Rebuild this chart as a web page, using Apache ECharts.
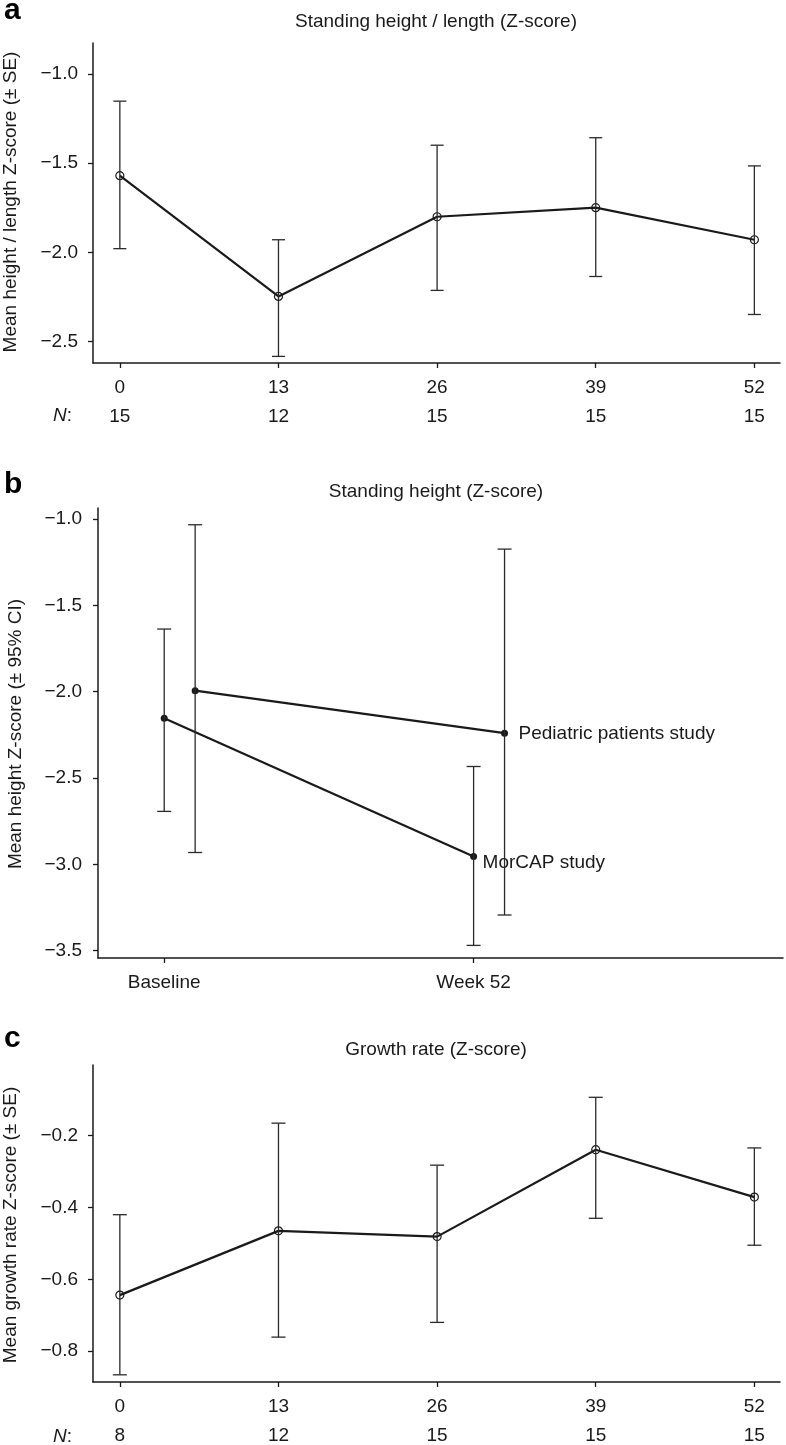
<!DOCTYPE html>
<html><head><meta charset="utf-8">
<script src="https://cdn.jsdelivr.net/npm/echarts@6/dist/echarts.min.js"></script>
<style>html,body{margin:0;padding:0;background:#fff}#c{width:786px;height:1445px}</style>
</head><body><div id="c"></div>
<script>
// ---------- Panel a: Standing height / length (Z-score) ----------
const weeksA = [0, 13, 26, 39, 52];
const nA = [15, 12, 15, 15, 15];
const meanA = [-1.57, -2.247, -1.80, -1.749, -1.929];
const upperA = [-1.152, -1.929, -1.399, -1.357, -1.515];
const lowerA = [-1.979, -2.583, -2.213, -2.135, -2.348];
const yTicksA = [-2.5, -2.0, -1.5, -1.0];

// ---------- Panel b: Standing height (Z-score) ----------
const timeLabelsB = ['Baseline', 'Week 52'];
const timeB = [0, 1];
const morcapName = 'MorCAP study';
const morcapMean = [-2.154, -2.954];
const morcapUpper = [-1.637, -2.433];
const morcapLower = [-2.693, -3.469];
const pedName = 'Pediatric patients study';
const pedMean = [-1.994, -2.24];
const pedUpper = [-1.033, -1.174];
const pedLower = [-2.931, -3.293];
const yTicksB = [-3.5, -3.0, -2.5, -2.0, -1.5, -1.0];

// ---------- Panel c: Growth rate (Z-score) ----------
const weeksC = [0, 13, 26, 39, 52];
const nC = [8, 12, 15, 15, 15];
const meanC = [-0.644, -0.465, -0.481, -0.239, -0.371];
const upperC = [-0.42, -0.165, -0.282, -0.093, -0.234];
const lowerC = [-0.866, -0.761, -0.720, -0.430, -0.505];
const yTicksC = [-0.8, -0.6, -0.4, -0.2];

// ---------- styling ----------
const FONT = 'Liberation Sans, Arial, Helvetica, sans-serif';
const FS = 19;
const INK = '#1a1a1a';
const dodgeB = 0.1; // horizontal dodge of the second study in panel b

function minus(v, d) { return (v < 0 ? '\u2212' : '') + Math.abs(v).toFixed(d); }

function errorSeries(xi, xs, lo, hi, cap) {
  return {
    type: 'custom', xAxisIndex: xi, yAxisIndex: xi, silent: true, z: 3,
    encode: { x: 0, y: [1, 2] },
    data: xs.map((x, i) => [x, lo[i], hi[i]]),
    renderItem: function (params, api) {
      const x = api.value(0);
      const p1 = api.coord([x, api.value(1)]);
      const p2 = api.coord([x, api.value(2)]);
      const st = { stroke: '#2a2a2a', lineWidth: 1.3 };
      return { type: 'group', children: [
        { type: 'line', shape: { x1: p1[0], y1: p1[1], x2: p2[0], y2: p2[1] }, style: st },
        { type: 'line', shape: { x1: p1[0] - cap, y1: p1[1], x2: p1[0] + cap, y2: p1[1] }, style: st },
        { type: 'line', shape: { x1: p2[0] - cap, y1: p2[1], x2: p2[0] + cap, y2: p2[1] }, style: st }
      ]};
    }
  };
}

function weekXAxis(gi, weeks, ns) {
  return {
    type: 'value', gridIndex: gi, min: -2.2, max: 54.1,
    axisLine: { show: true, onZero: false, lineStyle: { color: INK, width: 1.5 } },
    axisTick: { show: true, length: 5, customValues: weeks, lineStyle: { color: INK, width: 1.3 } },
    splitLine: { show: false },
    axisLabel: {
      customValues: weeks, margin: 10, color: INK, fontFamily: FONT, fontSize: FS,
      formatter: v => '{t|' + v + '}\n{t|' + ns[weeks.indexOf(v)] + '}',
      rich: { t: { fontFamily: FONT, fontSize: FS, lineHeight: 29, color: INK } }
    }
  };
}

function yAxisDef(gi, min, max, ticks, d, margin) {
  return {
    type: 'value', gridIndex: gi, min: min, max: max,
    axisLine: { show: true, onZero: false, lineStyle: { color: INK, width: 1.5 } },
    axisTick: { show: true, length: 5, customValues: ticks, lineStyle: { color: INK, width: 1.3 } },
    splitLine: { show: false },
    axisLabel: { customValues: ticks, margin: margin, color: INK, fontFamily: FONT, fontSize: FS,
      formatter: v => minus(v, d) }
  };
}

function meanLine(xi, xs, ys, size, filled, name) {
  return {
    type: 'line', name: name, xAxisIndex: xi, yAxisIndex: xi, z: 2,
    data: xs.map((x, i) => [x, ys[i]]),
    symbol: 'circle', symbolSize: size, showAllSymbol: true,
    lineStyle: { color: INK, width: 2.2 },
    itemStyle: filled ? { color: INK, borderWidth: 0 } : { color: 'rgba(255,255,255,0)', borderColor: INK, borderWidth: 1.2 },
    emphasis: { disabled: true }, animation: false
  };
}

const chart = echarts.init(document.getElementById('c'), null, { renderer: 'canvas' });

const titleStyle = { fontFamily: FONT, fontSize: FS, fontWeight: 'normal', color: INK };
const yTitleStyle = (t) => ({ text: t, font: FS + 'px ' + FONT, fill: INK, align: 'center', verticalAlign: 'middle' });
const nStyle = { text: '{i|N}:', font: FS + 'px ' + FONT, fill: INK, verticalAlign: 'middle',
  rich: { i: { fontStyle: 'italic', fontFamily: FONT, fontSize: FS, fill: INK } } };

const option = {
  animation: false,
  backgroundColor: '#fff',
  title: [
    { text: 'Standing height / length (Z-score)', left: 436, top: 12, textAlign: 'center', padding: 0, textStyle: titleStyle },
    { text: 'Standing height (Z-score)', left: 436, top: 482, textAlign: 'center', padding: 0, textStyle: titleStyle },
    { text: 'Growth rate (Z-score)', left: 436, top: 1040, textAlign: 'center', padding: 0, textStyle: titleStyle }
  ],
  grid: [
    { left: 93, top: 43, width: 687, height: 320 },
    { left: 98, top: 508, width: 685, height: 450 },
    { left: 93, top: 1065, width: 687, height: 318 }
  ],
  xAxis: [
    weekXAxis(0, weeksA, nA),
    {
      type: 'value', gridIndex: 1, min: -0.214, max: 2.0,
      axisLine: { show: true, onZero: false, lineStyle: { color: INK, width: 1.5 } },
      axisTick: { show: true, length: 5, customValues: timeB, lineStyle: { color: INK, width: 1.3 } },
      splitLine: { show: false },
      axisLabel: { customValues: timeB, margin: 15, color: INK, fontFamily: FONT, fontSize: FS,
        formatter: v => timeLabelsB[timeB.indexOf(v)] }
    },
    weekXAxis(2, weeksC, nC)
  ],
  yAxis: [
    yAxisDef(0, -2.62, -0.826, yTicksA, 1, 15),
    yAxisDef(1, -3.542, -0.936, yTicksB, 1, 16),
    yAxisDef(2, -0.886, -0.003, yTicksC, 1, 15)
  ],
  graphic: [
    { type: 'text', left: 4, top: -4, style: { text: 'a', font: 'bold 30px ' + FONT, fill: '#000' } },
    { type: 'text', left: 4, top: 470, style: { text: 'b', font: 'bold 30px ' + FONT, fill: '#000' } },
    { type: 'text', left: 4, top: 1024, style: { text: 'c', font: 'bold 30px ' + FONT, fill: '#000' } },
    { type: 'text', x: 11, y: 202, rotation: Math.PI / 2, style: yTitleStyle('Mean height / length Z-score (\u00b1 SE)') },
    { type: 'text', x: 16, y: 734, rotation: Math.PI / 2, style: yTitleStyle('Mean height Z-score (\u00b1 95% CI)') },
    { type: 'text', x: 11, y: 1225, rotation: Math.PI / 2, style: yTitleStyle('Mean growth rate Z-score (\u00b1 SE)') },
    { type: 'text', x: 53, y: 416, style: nStyle },
    { type: 'text', x: 53, y: 1437, style: nStyle }
  ],
  series: [
    // panel a
    errorSeries(0, weeksA, lowerA, upperA, 6.5),
    meanLine(0, weeksA, meanA, 8, false, 'a'),
    // panel b
    errorSeries(1, timeB, morcapLower, morcapUpper, 7),
    errorSeries(1, timeB.map(t => t + dodgeB), pedLower, pedUpper, 7),
    Object.assign(meanLine(1, timeB, morcapMean, 7, true, morcapName), {
      endLabel: { show: true, formatter: '{a}', distance: 8, offset: [0, 6], color: INK,
        fontFamily: FONT, fontSize: FS, backgroundColor: '#fff', padding: [3, 1, 3, 1] }
    }),
    Object.assign(meanLine(1, timeB.map(t => t + dodgeB), pedMean, 7, true, pedName), {
      endLabel: { show: true, formatter: '{a}', distance: 14, offset: [0, 1], color: INK,
        fontFamily: FONT, fontSize: FS }
    }),
    // panel c
    errorSeries(2, weeksC, lowerC, upperC, 7),
    meanLine(2, weeksC, meanC, 8, false, 'c')
  ]
};
chart.setOption(option);
</script>
</body></html>
